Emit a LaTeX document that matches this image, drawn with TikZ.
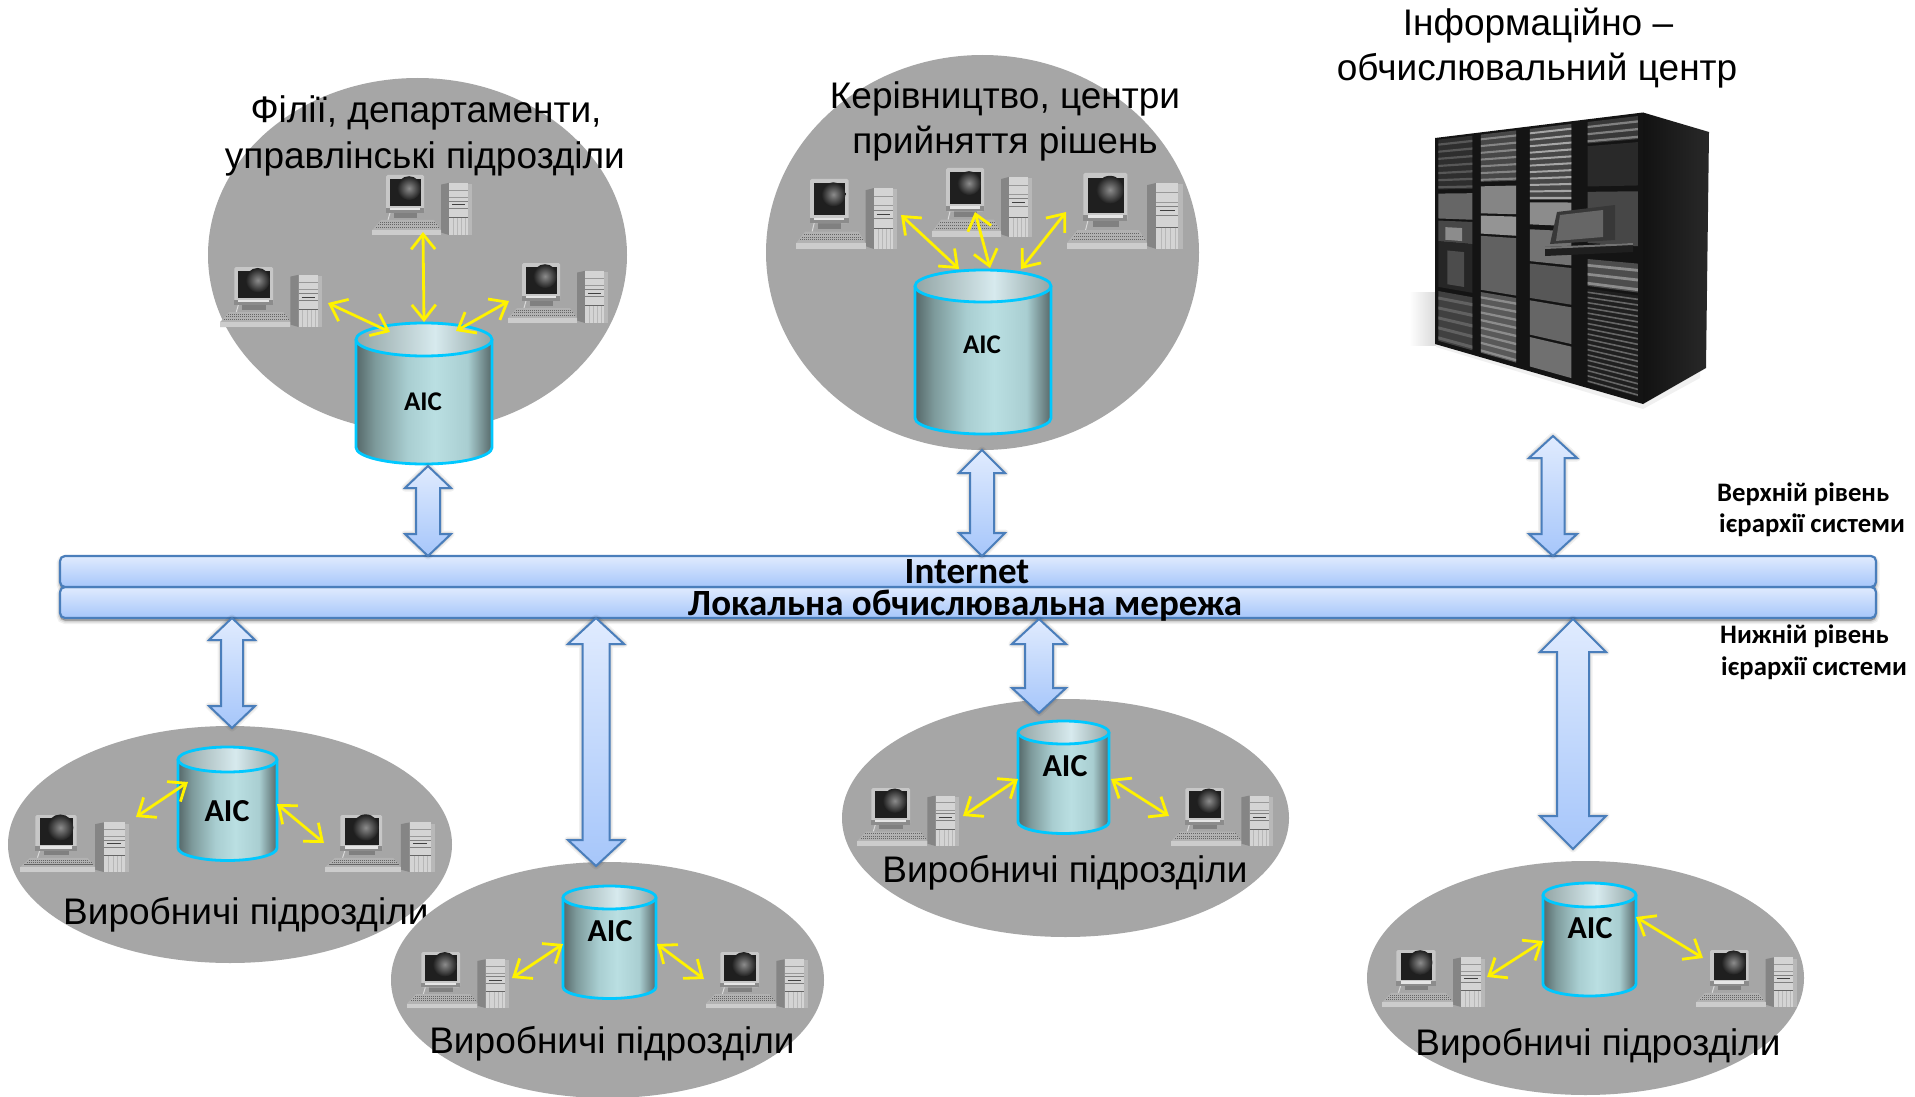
\documentclass[tikz,border=0pt]{standalone}
\usepackage{fontspec}
\setmainfont{Liberation Sans}
\newfontfamily\carl{Carlito}
\usetikzlibrary{arrows.meta,calc,shapes.geometric}
\definecolor{ellgrey}{HTML}{A6A6A6}
\definecolor{cylline}{HTML}{00C8FF}
\definecolor{barline}{HTML}{4A7EBB}
\definecolor{bartop}{HTML}{E0EBFE}
\definecolor{barbot}{HTML}{A6C6FA}
\definecolor{HTMLa}{HTML}{566869}
\definecolor{HTMLb}{HTML}{7D9A9B}
\definecolor{HTMLc}{HTML}{A9CED1}
\definecolor{HTMLd}{HTML}{BADFE2}
\definecolor{HTMLe}{HTML}{93A5A5}
\definecolor{HTMLf}{HTML}{D7EAEE}
\pgfdeclarehorizontalshading{cylbody}{100bp}{color(0bp)=(HTMLa);color(25bp)=(HTMLa);color(32bp)=(HTMLb);color(44bp)=(HTMLc);color(54bp)=(HTMLd);color(66bp)=(HTMLc);color(75bp)=(HTMLa);color(100bp)=(HTMLa)}
\pgfdeclarehorizontalshading{cyltop}{100bp}{color(0bp)=(HTMLe);color(25bp)=(HTMLe);color(54bp)=(HTMLf);color(75bp)=(HTMLe);color(100bp)=(HTMLe)}
\tikzset{
  zone/.style={ellipse,fill=ellgrey,inner sep=0pt},
  lbl/.style={anchor=base,inner sep=0pt,font=\fontsize{37}{37}\selectfont,text=black},
  aiclbl/.style={inner sep=0pt,font=\carl\bfseries\fontsize{#1}{#1}\selectfont,text=black},
  side/.style={anchor=base west,inner sep=0pt,font=\carl\bfseries\fontsize{26.7}{26.7}\selectfont,text=black},
  barlbl/.style={anchor=base,inner sep=0pt,font=\carl\bfseries\fontsize{37}{37}\selectfont,text=black},
  busbar/.style={rectangle,rounded corners=5pt,draw=barline,line width=2.2pt,top color=bartop,bottom color=barbot,inner sep=0pt,minimum width=1816pt,minimum height=31pt},
  busshadow/.style={rectangle,rounded corners=5pt,fill=black,inner sep=0pt,minimum width=1816pt,minimum height=31pt},
  ylink/.style={draw=yellow,line width=2.8pt,{Straight Barb[length=15pt,width=24pt,line width=2.8pt]}-{Straight Barb[length=15pt,width=24pt,line width=2.8pt]}},
  linkstyle/.style={draw=barline,line width=2pt,top color=bartop,bottom color=barbot,line join=miter},
}
% block arrow between two named coordinates: top, bottom, head half width, shaft half width, head length
\newcommand\blocklink[5]{%
  \def\bapath{(#1) -- ($(#1)+(#3,#5)$) -- ($(#1)+(#4,#5)$) -- ($(#2)+(#4,-#5)$) -- ($(#2)+(#3,-#5)$) -- (#2) -- ($(#2)+(-#3,-#5)$) -- ($(#2)+(-#4,-#5)$) -- ($(#1)+(-#4,#5)$) -- ($(#1)+(-#3,#5)$) -- cycle}%
  \foreach \lwv/\opv in {7/.06,4/.08,1.5/.10}{\draw[yshift=-2.5pt,draw=black,fill=black,opacity=\opv,line width=\lwv pt,line join=round] \bapath;}%
  \draw[linkstyle] \bapath;}
% storage cylinder: name, cx, rim y, bottom rim y, half width, ry
\newcommand\storage[6]{%
  \fill[shading=cylbody] (#2-#5,#3) -- (#2-#5,#4) arc[start angle=180,end angle=360,x radius=#5pt,y radius=#6pt] -- (#2+#5,#3) -- cycle;
  \draw[cylline,line width=2.8pt] (#2-#5,#3) -- (#2-#5,#4) arc[start angle=180,end angle=360,x radius=#5pt,y radius=#6pt] -- (#2+#5,#3);
  \draw[cylline,line width=2.8pt,shading=cyltop] (#2,#3) ellipse[x radius=#5pt,y radius=#6pt];
  \coordinate (#1) at (#2,#3);}
% yellow link between named free ends
\newcommand\ylinkto[5]{%
  \coordinate (#1a) at (#2,#3); \coordinate (#1b) at (#4,#5);
  \draw[ylink] (#1a) -- (#1b);}
% desktop computer: x, y, w, h
\newcommand\pc[4]{%
  \begin{scope}[shift={(#1,#2)},x=#3pt/100,y=-#4pt/100]
    % tower
    \fill[black!48] (69,16) -- (77,13) -- (77,100) -- (69,96) -- cycle;
    \fill[black!17] (77,13) rectangle (96,100);
    \fill[black!28] (96,15) rectangle (100,100);
    \draw[black!40,line width=.7pt] (77,25) -- (96,25) (77,38) -- (96,38);
    \draw[black!75,line width=1pt] (80,50) -- (93,50);
    \draw[black!50,line width=.6pt] (77,44) -- (96,44) (77,56) -- (96,56);
    \draw[black!60,line width=.8pt] (77,71) -- (96,71);
    \foreach \q in {81,85,89,93}{\draw[black!28,line width=.3pt] (\q,72) -- (\q,100);}
    % stand
    \fill[black!50] (22,63) rectangle (45,71);
    \draw[black!15,line width=1pt] (18,63) -- (16,75);
    % monitor
    \fill[black!22,rounded corners=1.5pt] (14,0) rectangle (52,63);
    \fill[black!45] (14,55) rectangle (52,63);
    \fill[black!10] (18,55) rectangle (48,59);
    \fill[black!88] (18,6) rectangle (49,52);
    \shade[inner color=black!45,outer color=black!88] (37,22) circle[radius=#3pt*0.12];
    % keyboard
    \fill[black!30] (9,75) -- (62,75) -- (69,92) -- (69,100) -- (0,100) -- (0,92) -- cycle;
    \fill[black!20] (0,92) rectangle (69,100);
    \draw[black!60,line width=1pt,dash pattern=on 1.2pt off .8pt] (8,79) -- (63,79) (6,83) -- (65,83) (4,87) -- (67,87);
  \end{scope}}
% server rack helpers
\newcommand\rackq[5]{%
  \pgfmathsetmacro\rxa{1435+208*#1}\pgfmathsetmacro\rxb{1435+208*#2}%
  \pgfmathsetmacro\rya{138-25.5*#1+(206+85.5*#1)*#3}\pgfmathsetmacro\ryb{138-25.5*#2+(206+85.5*#2)*#3}%
  \pgfmathsetmacro\ryc{138-25.5*#2+(206+85.5*#2)*#4}\pgfmathsetmacro\ryd{138-25.5*#1+(206+85.5*#1)*#4}%
  \fill[#5] (\rxa,\rya) -- (\rxb,\ryb) -- (\rxb,\ryc) -- (\rxa,\ryd) -- cycle;}
\newcommand\rackn[7]{% u0 u1 v0 v1 n colA colB
  \rackq{#1}{#2}{#3}{#4}{#6}%
  \pgfmathsetmacro\rst{(#4-#3)/#5}%
  \foreach \ri in {1,...,#5}{%
    \pgfmathsetmacro\rvv{#3+(\ri-.45)*\rst}\pgfmathsetmacro\rww{#3+(\ri-.15)*\rst}%
    \rackq{#1}{#2}{\rvv}{\rww}{#7}}}
\begin{document}
\begin{tikzpicture}[x=1pt,y=-1pt]
\useasboundingbox (0,0) rectangle (1915,1097);
\fill[white] (0,0) rectangle (1915,1097);

% ---------- server rack ----------
\shade[left color=white,right color=gray!30] (1409,292) rectangle (1436,345);
\fill[gray!12] (1436,342) -- (1643,404) -- (1700,372) -- (1700,378) -- (1643,409) -- (1436,347) -- cycle;
\fill[black!92] (1435,138) -- (1643,112.5) -- (1643,404) -- (1435,344) -- cycle;
\shade[left color=black!93,right color=black!84] (1643,112.5) -- (1709,132) -- (1706,368) -- (1643,404) -- cycle;
% column 1
\rackn{.016}{.18}{.01}{.25}{7}{black!82}{black!66}
\rackq{.016}{.18}{.27}{.39}{black!60}
\rackq{.016}{.18}{.40}{.50}{black!72}
\rackq{.016}{.18}{.50}{.72}{black!85}
\rackq{.05}{.13}{.43}{.49}{black!45}
\rackq{.06}{.14}{.54}{.70}{black!70}
\rackn{.016}{.18}{.74}{.98}{5}{black!75}{black!62}
% column 2
\rackn{.22}{.39}{.01}{.22}{7}{black!72}{black!48}
\rackq{.22}{.39}{.24}{.36}{black!48}
\rackq{.22}{.39}{.37}{.45}{black!42}
\rackq{.22}{.39}{.46}{.70}{black!62}
\rackn{.22}{.39}{.71}{.98}{8}{black!65}{black!45}
% column 3
\rackn{.456}{.656}{.01}{.30}{11}{black!72}{black!35}
\rackq{.456}{.656}{.31}{.40}{black!45}
\rackq{.456}{.656}{.42}{.55}{black!55}
\rackq{.456}{.656}{.56}{.70}{black!66}
\rackq{.456}{.656}{.71}{.85}{black!60}
\rackq{.456}{.656}{.86}{.98}{black!56}
% column 4
\rackn{.734}{.975}{.01}{.09}{3}{black!78}{black!50}
\rackq{.734}{.975}{.10}{.25}{black!84}
\rackq{.734}{.975}{.27}{.46}{black!72}
\rackn{.734}{.975}{.52}{.62}{3}{black!70}{black!45}
\rackn{.734}{.975}{.63}{.98}{18}{black!88}{black!60}
% console
\fill[black!78] (1557,212) -- (1615,205) -- (1615,240) -- (1550,244) -- cycle;
\fill[black!60] (1560,215) -- (1603,210) -- (1603,237) -- (1556,241) -- cycle;
\fill[black!88] (1545,247) -- (1633,243) -- (1633,252) -- (1545,256) -- cycle;
\fill[black!55] (1545,247) -- (1633,243) -- (1633,245) -- (1545,249) -- cycle;

% ---------- bus bars ----------
\foreach \lwv/\opv in {7/.06,4/.09,1.5/.11}{
  \node[busshadow,opacity=\opv,draw=black,line width=\lwv pt,yshift=-2.5pt] at (968,571.5) {};
  \node[busshadow,opacity=\opv,draw=black,line width=\lwv pt,yshift=-2.5pt] at (968,602.5) {};
}
\node[busbar] (lan) at (968,602.5) {};
\node[busbar] (inet) at (968,571.5) {};
\node[barlbl] (inettxt) at (967,583) {Internet};
\node[barlbl] (lantxt) at (965,615) {Локальна обчислювальна мережа};

% ---------- zone 1 ----------
\node[zone,minimum width=419pt,minimum height=354pt] (z1) at (417.5,255) {};
\node[lbl] (z1a) at (426,123) {Філії, департаменти,};
\node[lbl] (z1b) at (425,168) {управлінські підрозділи};
\pc{372}{175}{100}{60}
\pc{220}{267}{102}{60}
\pc{508}{263}{100}{60}
\storage{c1}{424}{339.5}{447.5}{68}{16.5}
\node[aiclbl=27] (a1) at (423,402) {AIC};
\ylinkto{y1}{423}{232}{424}{322}
\ylinkto{y2}{328}{303}{390}{332}
\ylinkto{y3}{509}{301}{456}{331}
\coordinate (b1t) at (428,466); \coordinate (b1b) at (428,556);
\blocklink{b1t}{b1b}{23}{12}{22}

% ---------- zone 2 ----------
\node[zone,minimum width=433pt,minimum height=395pt] (z2) at (982.5,252.5) {};
\node[lbl] (z2a) at (1005,109) {Керівництво, центри};
\node[lbl] (z2b) at (1005,154) {прийняття рішень};
\pc{796}{179}{101}{70}
\pc{932}{168}{100}{69}
\pc{1067}{173}{116}{76}
\storage{c2}{983}{286}{418}{68}{16}
\node[aiclbl=27] (a2) at (982,345) {AIC};
\ylinkto{y4}{901}{215}{959}{269}
\ylinkto{y5}{975}{212}{990}{268}
\ylinkto{y6}{1066}{212}{1021}{269}
\coordinate (b2t) at (982,450); \coordinate (b2b) at (982,556);
\blocklink{b2t}{b2b}{23}{12}{23}

% ---------- zone 3 ----------
\node[zone,minimum width=444pt,minimum height=237pt] (z3) at (230,844.5) {};
\pc{20}{815}{109}{57}
\pc{325}{815}{110}{57}
\storage{c3}{227.5}{759.5}{848}{49.5}{12.5}
\node[aiclbl=32] (a3) at (227,811) {AIC};
\ylinkto{y7}{136}{817}{188}{782}
\ylinkto{y8}{277}{804}{324}{843}
\node[lbl,anchor=base west] (z3a) at (63,924) {Виробничі підрозділи};
\coordinate (b3t) at (232,618); \coordinate (b3b) at (232,728);
\blocklink{b3t}{b3b}{23}{11}{22}

% ---------- zone 4 ----------
\node[zone,minimum width=433pt,minimum height=236pt] (z4) at (607.5,980) {};
\pc{407}{952}{102}{56}
\pc{706}{952}{102}{56}
\storage{c4}{609.5}{897.5}{987}{46.5}{11.5}
\node[aiclbl=32] (a4) at (610,931) {AIC};
\ylinkto{y9}{512}{978}{563}{944}
\ylinkto{y10}{657}{944}{704}{979}
\node[lbl] (z4a) at (612,1053) {Виробничі підрозділи};
\coordinate (b4t) at (596,618); \coordinate (b4b) at (596,866);
\blocklink{b4t}{b4b}{28}{13.5}{26}

% ---------- zone 5 ----------
\node[zone,minimum width=447pt,minimum height=238pt] (z5) at (1065.5,818) {};
\pc{857}{788}{102}{58}
\pc{1171}{788}{102}{58}
\storage{c5}{1063.5}{732.5}{822}{45.5}{11.5}
\node[aiclbl=32] (a5) at (1065,766) {AIC};
\ylinkto{y11}{963}{816}{1018}{779}
\ylinkto{y12}{1111}{779}{1169}{816}
\node[lbl] (z5a) at (1065,882) {Виробничі підрозділи};
\coordinate (b5t) at (1039,619); \coordinate (b5b) at (1039,713);
\blocklink{b5t}{b5b}{27}{14}{25}

% ---------- zone 6 ----------
\node[zone,minimum width=437pt,minimum height=234pt] (z6) at (1585.5,978) {};
\pc{1382}{950}{103}{57}
\pc{1696}{950}{101}{57}
\storage{c6}{1589.5}{895}{984}{46.5}{12}
\node[aiclbl=32] (a6) at (1590,928) {AIC};
\ylinkto{y13}{1487}{977}{1543}{941}
\ylinkto{y14}{1636}{917}{1703}{958}
\node[lbl] (z6a) at (1598,1055) {Виробничі підрозділи};
\coordinate (b6t) at (1573,619); \coordinate (b6b) at (1573,849);
\blocklink{b6t}{b6b}{33}{16}{33}

% ---------- server link and titles ----------
\coordinate (b7t) at (1553,436); \coordinate (b7b) at (1553,556);
\blocklink{b7t}{b7b}{24}{11.5}{22}
\node[lbl] (s1) at (1538,36) {Інформаційно –};
\node[lbl] (s2) at (1537,81) {обчислювальний центр};
\node[side] (u1) at (1717,501) {Верхній рівень};
\node[side] (u2) at (1719,532) {ієрархії системи};
\node[side] (l1) at (1720,643) {Нижній рівень};
\node[side] (l2) at (1721,675) {ієрархії системи};
\end{tikzpicture}
\end{document}
